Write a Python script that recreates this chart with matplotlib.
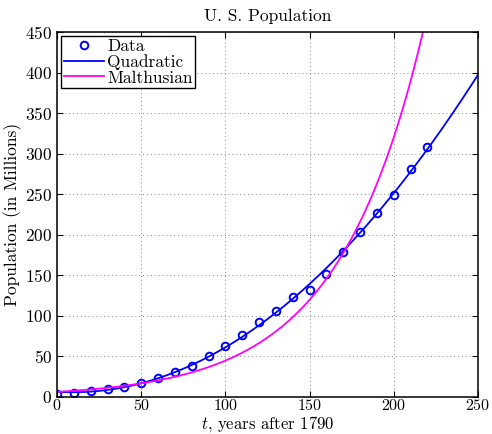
import numpy as np
import matplotlib
matplotlib.use('Agg')
import matplotlib.pyplot as plt

plt.rcParams['font.family'] = 'cmr10'
plt.rcParams['mathtext.fontset'] = 'cm'
plt.rcParams['axes.formatter.use_mathtext'] = True
plt.rcParams['font.size'] = 12

# census data, years after 1790
t_data = np.array([0, 10, 20, 30, 40, 50, 60, 70, 80, 90, 100, 110,
                   120, 130, 140, 150, 160, 170, 180, 190, 200, 210, 220])
pop = np.array([3.9, 5.3, 7.2, 9.6, 12.9, 17.1, 23.2, 31.4, 38.6, 50.2, 62.9, 76.2,
                92.2, 106.0, 123.2, 132.2, 151.3, 179.3, 203.3, 226.5, 248.7, 281.4, 308.7])

# fitted models from the data
t = np.linspace(0, 250, 500)
quad = np.polyval(np.polyfit(t_data, pop, 2), t)
lin = np.polyfit(t_data, np.log(pop), 1)
malthus = np.exp(np.polyval(lin, t))

fig = plt.figure(figsize=(4.92, 4.34), dpi=100)
ax = fig.add_axes([0.1159, 0.0853, 0.8556, 0.8407])

ax.plot(t_data, pop, 'o', color='blue', mfc='none', mew=1.4, ms=5.5, label='Data')
ax.plot(t, quad, color='blue', lw=1.3, label='Quadratic')
ax.plot(t, malthus, color='magenta', lw=1.3, label='Malthusian')

ax.set_xlim(0, 250)
ax.set_ylim(0, 450)
ax.set_xticks(range(0, 251, 50))
ax.set_yticks(range(0, 451, 50))
ax.tick_params(direction='in', top=True, right=True, length=4, labelsize=12.5)
ax.tick_params(axis='x', pad=1, labelsize=11.5)
ax.grid(True, linestyle=(0, (1, 3)), color='#888888', lw=0.7)
for s in ax.spines.values():
    s.set_linewidth(1.1)

ax.set_title('U. S. Population', fontsize=12.5, pad=8)
ax.set_xlabel('$t$, years after 1790', fontsize=12)
ax.xaxis.set_label_coords(0.5, -0.048, transform=ax.transAxes)
ax.xaxis.label.set_va('top')
ax.set_ylabel('Population (in Millions)', fontsize=12.5, labelpad=2)

leg = ax.legend(loc='upper left', fancybox=False, edgecolor='black', framealpha=1,
                fontsize=12.5, borderpad=0.15, labelspacing=0.0, handlelength=2.3,
                handletextpad=0.2, borderaxespad=0.25)
leg.get_frame().set_linewidth(1.0)

fig.savefig('out.png', dpi=100)
